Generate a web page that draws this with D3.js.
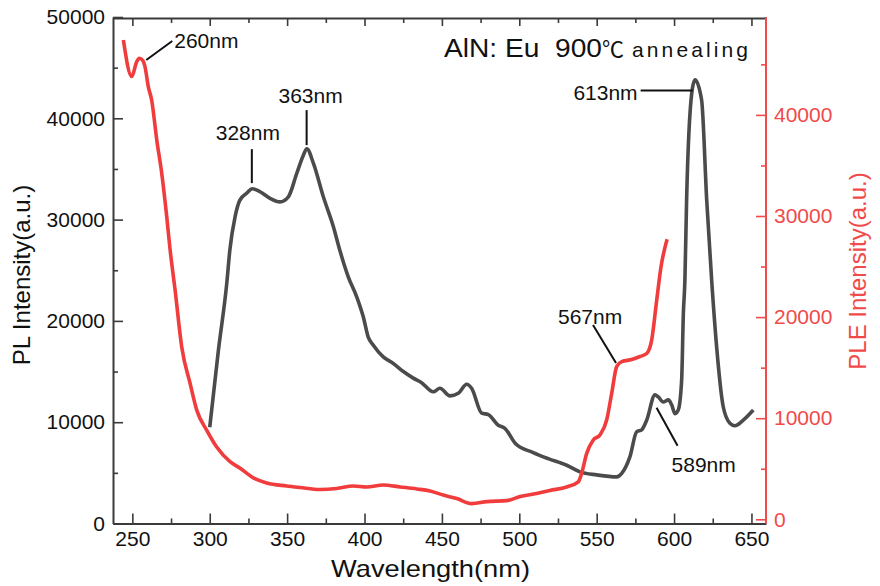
<!DOCTYPE html>
<html>
<head>
<meta charset="utf-8">
<script src="https://cdn.jsdelivr.net/npm/d3@7"></script>
<style>
  html, body { margin: 0; padding: 0; background: #fff; }
  svg { display: block; }
  text { font-family: "Liberation Sans", Arial, sans-serif; }
</style>
</head>
<body>
<svg id="chart" width="880" height="586"></svg>
<script>
// PL emission spectrum (left axis): wavelength (nm) and intensity (a.u.)
const plWavelength = [300, 305.6, 311, 313, 316.4, 319.4, 323.9, 327.5, 332.5, 339, 345.4, 350.8, 356.2, 360.5, 362.7,
  367, 373.4, 379.9, 384, 389.5, 394.9, 399.2, 402.4, 405.7, 412.1, 418.6, 425.1, 431.5, 436.9, 444.4, 448.7,
  455.2, 460.6, 466, 469.2, 475.7, 480, 486.4, 490.7, 497.5, 509, 518.7, 530.6, 539.2, 550, 562.9, 566.2,
  571.5, 575.8, 579.1, 582.3, 587.7, 589.8, 593, 596.3, 598.5, 600.6, 602.7, 604.9, 606, 607, 608.1, 611.4,
  613.5, 617.8, 621.1, 624.3, 627.5, 631.8, 636.1, 639.3, 644.7, 651.2];
const plIntensity = [9500, 17100, 23700, 27000, 30300, 31900, 32600, 33050, 32750, 32100, 31750, 32250, 34550, 36350, 37000,
  35550, 32250, 29300, 27000, 24350, 22400, 20400, 18400, 17600, 16450, 15800, 15000, 14350, 13900, 13000, 13350,
  12600, 12850, 13750, 13350, 10900, 10750, 9700, 9400, 7900, 7000, 6400, 5750, 5100, 4800, 4600, 4950,
  6600, 9050, 9250, 10200, 12700, 12500, 12000, 12200, 11700, 10850, 11200, 14150, 20700, 24000, 31900, 42450,
  43800, 41800, 31900, 24000, 17450, 11500, 9900, 9650, 10200, 11200];

// PLE excitation spectrum (right axis)
const pleWavelength = [244.2, 249.6, 252.8, 254.5, 256.7, 258.2, 260.3, 262.5, 265.8, 269, 272.2, 274.4, 277.6, 281.9,
  287.3, 291.6, 298.1, 304.5, 313.1, 319.6, 328.2, 336.8, 349.7, 358.3, 371.3, 382, 392.8, 401.4, 412.1, 423,
  433.8, 442.3, 450.9, 459.6, 469.3, 479, 491.9, 500.5, 511.2, 519.8, 530.6, 538.1, 540.3, 543.5, 547.8, 552.1,
  556.5, 559.7, 562.9, 566.2, 572.6, 578, 582.3, 585.5, 588.8, 591.6, 595.5];
const pleIntensity = [47400, 43800, 45250, 45600, 45400, 44750, 42800, 41450, 37500, 34200, 29950, 26650, 22700, 17050,
  13450, 10800, 8800, 7150, 5700, 5050, 4100, 3600, 3300, 3150, 2950, 3050, 3300, 3200, 3400, 3200,
  3000, 2800, 2400, 2050, 1550, 1750, 1850, 2250, 2550, 2850, 3200, 3700, 4550, 6500, 7850, 8350,
  9850, 12450, 15100, 15600, 15800, 16100, 16400, 17700, 21700, 25000, 27700];

// Axis ticks
const xTicks = [250, 300, 350, 400, 450, 500, 550, 600, 650];
const xMinorTicks = [275, 325, 375, 425, 475, 525, 575, 625];
const yLeftTicks = [0, 10000, 20000, 30000, 40000, 50000];
const yLeftMinor = [5000, 15000, 25000, 35000, 45000];
const yRightTicks = [0, 10000, 20000, 30000, 40000];
const yRightMinor = [5000, 15000, 25000, 35000, 45000];

// Peak annotations: anchor point on a curve, leader-line end offset, label offset
const peakLabels = [
  { text: "260nm", wl: 259, val: 45430, side: "right", lx: 26, ly: -19, tx: 28, ty: -12, anchor: "start" },
  { text: "328nm", wl: 327.2, val: 33600, side: "left", lx: 0, ly: -34, tx: -4, ty: -43, anchor: "middle" },
  { text: "363nm", wl: 362.6, val: 37350, side: "left", lx: 0, ly: -35, tx: 4, ty: -42, anchor: "middle" },
  { text: "613nm", wl: 612, val: 42740, side: "left", lx: -52, ly: 0, tx: -55, ty: 9, anchor: "end" },
  { text: "567nm", wl: 562.5, val: 15460, side: "right", lx: -23, ly: -38, tx: -58, ty: -39, anchor: "start" },
  { text: "589nm", wl: 588.7, val: 11430, side: "left", lx: 21, ly: 38, tx: 15, ty: 64, anchor: "start" }
];

const frameColor = "#3a3a3a";
const plColor = "#4b4b4b";
const pleColor = "#f03c3c";
const axisRed = "#f04a4a";
const fmt = d3.format("d");

const svg = d3.select("#chart");

const x = d3.scaleLinear().domain([237.5, 659.4]).range([113, 766]);
const yL = d3.scaleLinear().domain([0, 50000]).range([523.5, 17]);
const yR = d3.scaleLinear().domain([0, 50000]).range([519.3, 13.8]);

const plData = plWavelength.map((w, i) => [w, plIntensity[i]]);
const pleData = pleWavelength.map((w, i) => [w, pleIntensity[i]]);

function styleAxis(g, color, fontSize) {
  g.selectAll(".domain").attr("stroke", color).attr("stroke-width", 2);
  g.selectAll(".tick line").attr("stroke", color).attr("stroke-width", 1.6);
  g.selectAll(".tick text").attr("fill", color).attr("font-size", fontSize)
    .attr("font-family", "'Liberation Sans', Arial, sans-serif");
}

// bottom axis (ticks pointing inward)
const gxB = svg.append("g").attr("transform", `translate(0,${yL(0)})`)
  .call(d3.axisBottom(x).tickValues(xTicks).tickFormat(fmt).tickSize(-10).tickSizeOuter(0).tickPadding(8));
styleAxis(gxB, "#111", 21);
gxB.selectAll(".domain").attr("stroke", frameColor);
gxB.selectAll(".tick line").attr("stroke", frameColor);
const gxBm = svg.append("g").attr("transform", `translate(0,${yL(0)})`)
  .call(d3.axisBottom(x).tickValues(xMinorTicks).tickSize(-5).tickSizeOuter(0).tickFormat(""));
styleAxis(gxBm, frameColor, 0);
gxBm.select(".domain").remove();

// top axis
const gxT = svg.append("g").attr("transform", `translate(0,18)`)
  .call(d3.axisTop(x).tickValues(xTicks).tickSize(-8).tickSizeOuter(0).tickFormat(""));
styleAxis(gxT, frameColor, 0);
const gxTm = svg.append("g").attr("transform", `translate(0,18)`)
  .call(d3.axisTop(x).tickValues(xMinorTicks).tickSize(-5).tickSizeOuter(0).tickFormat(""));
styleAxis(gxTm, frameColor, 0);
gxTm.select(".domain").remove();

// left axis
const gyL = svg.append("g").attr("transform", `translate(113,0)`)
  .call(d3.axisLeft(yL).tickValues(yLeftTicks).tickFormat(fmt).tickSize(-10).tickSizeOuter(0).tickPadding(8));
styleAxis(gyL, "#111", 21);
gyL.selectAll(".domain").attr("stroke", frameColor);
gyL.selectAll(".tick line").attr("stroke", frameColor);
const gyLm = svg.append("g").attr("transform", `translate(113,0)`)
  .call(d3.axisLeft(yL).tickValues(yLeftMinor).tickSize(-5).tickSizeOuter(0).tickFormat(""));
styleAxis(gyLm, frameColor, 0);
gyLm.select(".domain").remove();

// curves
const line = (yScale) => d3.line().x(d => x(d[0])).y(d => yScale(d[1])).curve(d3.curveMonotoneX);

svg.append("path").datum(plData)
  .attr("d", line(yL)).attr("fill", "none")
  .attr("stroke", plColor).attr("stroke-width", 3.6).attr("stroke-linejoin", "round");

svg.append("path").datum(pleData)
  .attr("d", line(yR)).attr("fill", "none")
  .attr("stroke", pleColor).attr("stroke-width", 3.6).attr("stroke-linejoin", "round");

// right axis (red)
const gyR = svg.append("g").attr("transform", `translate(766,0)`)
  .call(d3.axisRight(yR).tickValues(yRightTicks).tickFormat(fmt).tickSize(-10).tickSizeOuter(0).tickPadding(8));
styleAxis(gyR, axisRed, 21);
gyR.select(".domain").attr("d", `M0,${yL(0)}V17`);
const gyRm = svg.append("g").attr("transform", `translate(766,0)`)
  .call(d3.axisRight(yR).tickValues(yRightMinor).tickSize(-5).tickSizeOuter(0).tickFormat(""));
styleAxis(gyRm, axisRed, 0);
gyRm.select(".domain").remove();

// axis titles
svg.append("text")
  .attr("x", 331).attr("y", 577)
  .attr("font-size", 24).attr("fill", "#111")
  .attr("textLength", 199).attr("lengthAdjust", "spacingAndGlyphs")
  .text("Wavelength(nm)");

svg.append("text")
  .attr("transform", "translate(30,275) rotate(-90)")
  .attr("text-anchor", "middle")
  .attr("font-size", 24).attr("fill", "#111")
  .text("PL Intensity(a.u.)");

svg.append("text")
  .attr("transform", "translate(866,271) rotate(-90)")
  .attr("text-anchor", "middle")
  .attr("font-size", 24).attr("fill", axisRed)
  .text("PLE Intensity(a.u.)");

// sample caption
const cap = svg.append("text").attr("x", 444).attr("y", 57).attr("fill", "#111");
cap.append("tspan").attr("font-size", 25)
  .attr("textLength", 158).attr("lengthAdjust", "spacingAndGlyphs")
  .text("AlN: Eu\u00a0\u00a0900");
cap.append("tspan").attr("font-size", 22)
  .attr("font-family", "'Noto Sans CJK JP', sans-serif").text("℃");
cap.append("tspan").attr("font-size", 21).attr("dx", 8)
  .attr("textLength", 116).attr("lengthAdjust", "spacing")
  .text("annealing");

// peak labels with leader lines
peakLabels.forEach(p => {
  const ax = x(p.wl);
  const ay = p.side === "left" ? yL(p.val) : yR(p.val);
  svg.append("line")
    .attr("x1", ax).attr("y1", ay)
    .attr("x2", ax + p.lx).attr("y2", ay + p.ly)
    .attr("stroke", "#111").attr("stroke-width", 2);
  svg.append("text")
    .attr("x", ax + p.tx).attr("y", ay + p.ty)
    .attr("text-anchor", p.anchor)
    .attr("font-size", 21).attr("fill", "#111")
    .text(p.text);
});
</script>
</body>
</html>
